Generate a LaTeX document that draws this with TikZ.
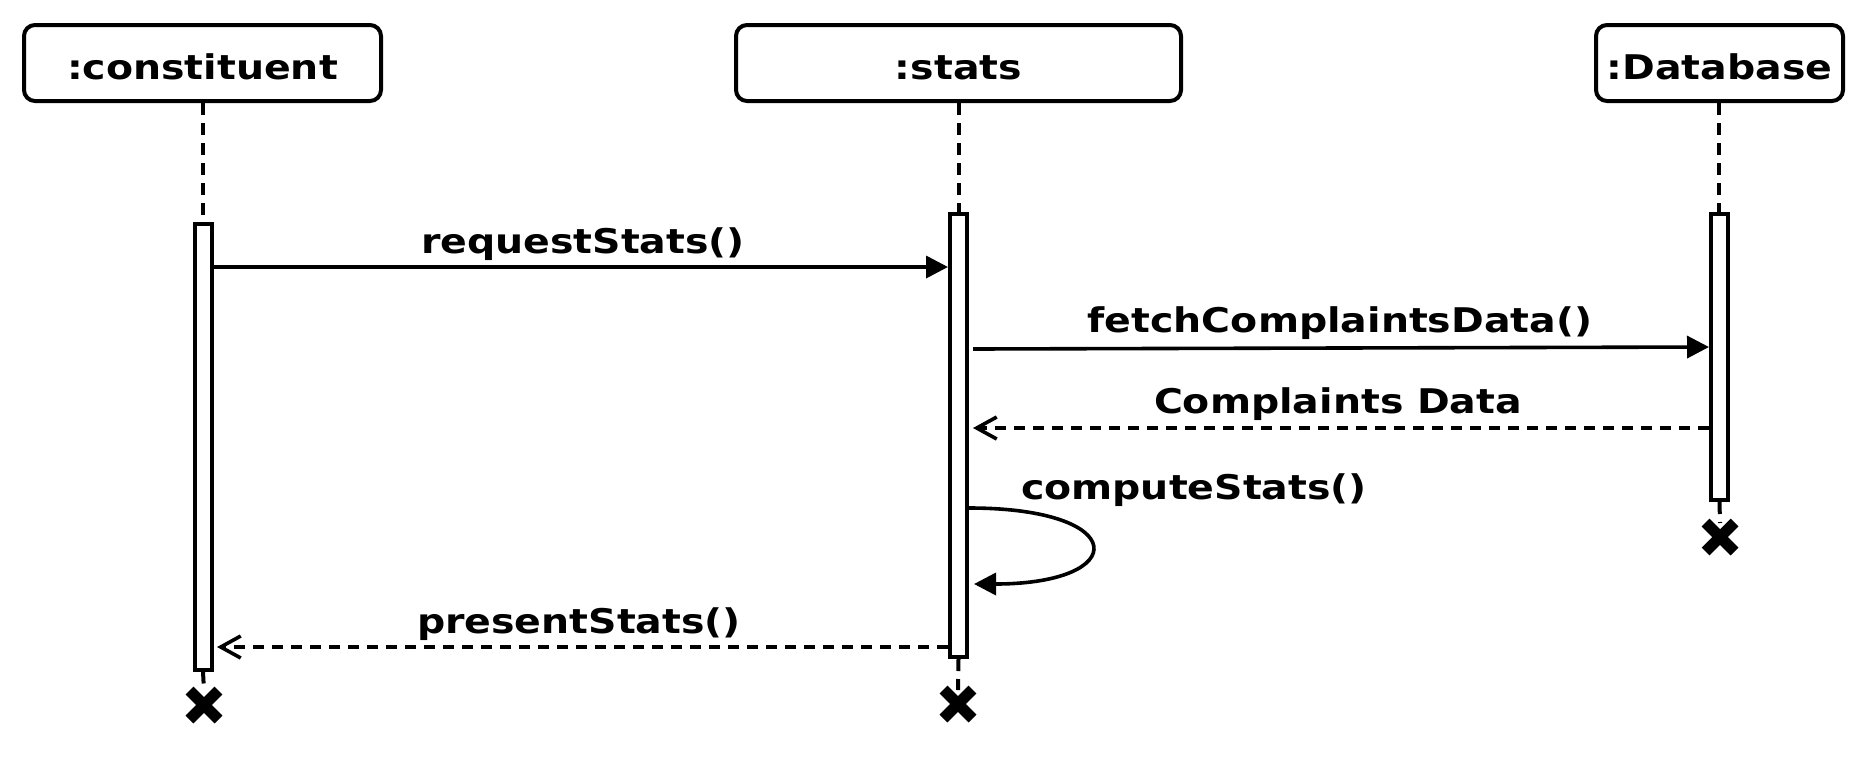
\documentclass[tikz,border=0pt]{standalone}
\usepackage{fontspec}
\newfontfamily\vfont{DejaVu Sans Bold}[FakeStretch=1.16]
\usetikzlibrary{arrows.meta,calc}
\begin{document}
\begin{tikzpicture}[x=1pt,y=-1pt,
  txt/.style={font=\vfont\fontsize{34}{40}\selectfont, inner sep=0pt},
  objbox/.style={draw, line width=4pt, rounded corners=11pt, minimum height=76pt, inner sep=0pt, text height=33pt, text depth=0pt, font=\vfont\fontsize{34}{40}\selectfont},
  actbar/.style={draw, line width=4pt, fill=white, inner sep=0pt},
  lifeline/.style={line width=4pt, dash pattern=on 12pt off 8pt},
  callmsg/.style={line width=3.6pt, -{Triangle[length=22pt,width=22pt]}},
  retmsg/.style={line width=3.6pt, dash pattern=on 11pt off 8pt, -{Straight Barb[length=20pt,width=22pt]}},
  xmark/.style={line width=11pt, line cap=butt}
]
\useasboundingbox (0,0) rectangle (1868,756);

% objects
\node[objbox, minimum width=357pt] (c) at (202.5,63) {:constituent};
\node[objbox, minimum width=445pt] (s) at (958.5,63) {:stats};
\node[objbox, minimum width=247pt] (d) at (1719.5,63) {:Database};

% lifelines (top parts)
\coordinate (cbt) at (203,222);
\coordinate (sbt) at (959,212);
\coordinate (dbt) at (1719,212);
\draw[lifeline] (c.south -| cbt) -- (cbt);
\draw[lifeline] (s.south -| sbt) -- (sbt);
\draw[lifeline] (d.south -| dbt) -- (dbt);

% activation bars
\node[actbar, minimum width=17pt, minimum height=446pt] (cbar) at (203,446.5) {};
\node[actbar, minimum width=17pt, minimum height=443pt] (sbar) at (958.5,435.5) {};
\node[actbar, minimum width=17pt, minimum height=286pt] (dbar) at (1719.5,357) {};

% destruction marks
\coordinate (cx) at (204,705);
\coordinate (sx) at (958,704);
\coordinate (dx) at (1720,537);
\draw[lifeline] (cbar.south) -- ($(cx)+(0,-14)$);
\draw[lifeline] (sbar.south) -- ($(sx)+(0,-14)$);
\draw[lifeline] (dbar.south) -- ($(dx)+(0,-14)$);
\foreach \p in {cx,sx,dx}{
  \draw[xmark] ($(\p)+(-14.5,-14.5)$) -- ($(\p)+(14.5,14.5)$);
  \draw[xmark] ($(\p)+(-14.5,14.5)$) -- ($(\p)+(14.5,-14.5)$);
}

% messages
\coordinate (m1) at (0,267);
\coordinate (m2a) at (973,349);
\coordinate (m2b) at (0,347);
\coordinate (m3) at (0,428);
\coordinate (m3e) at (973,428);
\coordinate (m4a) at (0,508);
\coordinate (m4e) at (974,584);
\coordinate (m5) at (0,647);
\coordinate (m5e) at (217,647);

\draw[callmsg] (cbar.east |- m1) -- (sbar.west |- m1);
\draw[callmsg] (m2a) -- (dbar.west |- m2b);
\draw[retmsg] (dbar.west |- m3) -- (m3e);
\draw[callmsg] (sbar.east |- m4a) .. controls (1131,508) and (1131,584) .. (m4e);
\draw[retmsg] (sbar.west |- m5) -- (m5e);

% labels
\node[txt, anchor=base] (l1) at (583,253) {requestStats()};
\node[txt, anchor=base] (l2) at (1340,332) {fetchComplaintsData()};
\node[txt, anchor=base] (l3) at (1338,413) {Complaints Data};
\node[txt, anchor=base] (l4) at (1194,499) {computeStats()};
\node[txt, anchor=base] (l5) at (579,633) {presentStats()};
\end{tikzpicture}
\end{document}
